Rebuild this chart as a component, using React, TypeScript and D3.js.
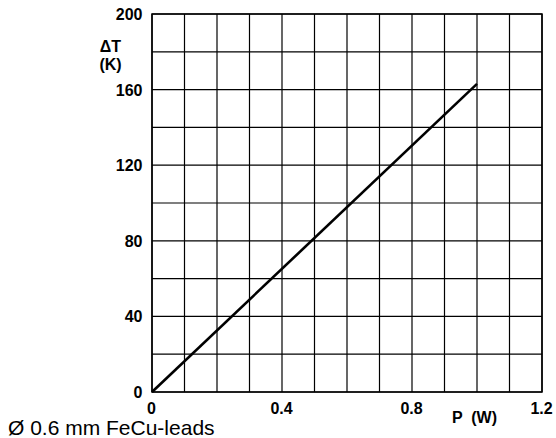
import React from "react";
import * as d3 from "d3";

const powerW = [0, 1.0];
const deltaTK = [0, 163];
const xTicks = [0, 0.4, 0.8, 1.2];
const yTicks = [0, 40, 80, 120, 160, 200];
const xGrid = d3.range(0, 13).map((i) => i / 10);
const yGrid = d3.range(0, 11).map((i) => i * 20);

export default function App() {
  const W = 556, H = 438;
  const x = d3.scaleLinear().domain([0, 1.2]).range([152, 542]);
  const y = d3.scaleLinear().domain([0, 200]).range([392, 14]);
  const pts = powerW.map((p, i) => [p, deltaTK[i]] as [number, number]);
  const line = d3.line<[number, number]>().x((d) => x(d[0])).y((d) => y(d[1]));
  const font = "Arial, 'Liberation Sans', Helvetica, sans-serif";
  return (
    <svg width={W} height={H} style={{ position: "absolute", left: 0, top: 0 }} fontFamily={font}>
      <rect width={W} height={H} fill="#fff" />
      {xGrid.map((g) => (
        <line key={"x" + g} x1={x(g)} x2={x(g)} y1={y(0)} y2={y(200)} stroke="#000" strokeWidth={1.2} />
      ))}
      {yGrid.map((g) => (
        <line key={"y" + g} x1={x(0)} x2={x(1.2)} y1={y(g)} y2={y(g)} stroke="#000" strokeWidth={1.2} />
      ))}
      <rect x={x(0)} y={y(200)} width={x(1.2) - x(0)} height={y(0) - y(200)} fill="none" stroke="#000" strokeWidth={1.5} />
      <path d={line(pts) || ""} fill="none" stroke="#000" strokeWidth={2.6} />
      {yTicks.map((t) => (
        <text key={"yt" + t} x={142.5} y={y(t) + 6} textAnchor="end" fontSize={16} fontWeight="bold">{t}</text>
      ))}
      {xTicks.map((t) => (
        <text key={"xt" + t} x={x(t) - 0.5} y={414} textAnchor="middle" fontSize={16} fontWeight="bold">{t === 0 ? "0" : t.toFixed(1)}</text>
      ))}
      <text x={110.5} y={51.5} textAnchor="middle" fontSize={16} fontWeight="bold">ΔT</text>
      <text x={110.5} y={69.5} textAnchor="middle" fontSize={16} fontWeight="bold">(K)</text>
      <text x={452} y={423} fontSize={16} fontWeight="bold" xmlSpace="preserve">P  (W)</text>
      <text x={8} y={435} fontSize={21}>Ø 0.6 mm FeCu-leads</text>
    </svg>
  );
}
